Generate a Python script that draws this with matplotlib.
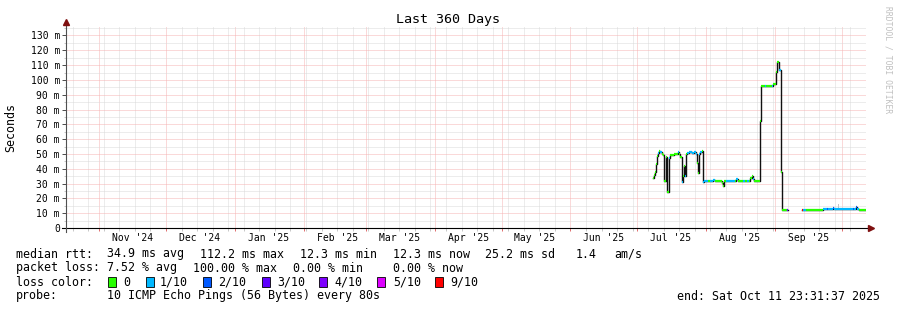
from datetime import datetime, timedelta
import numpy as np
import pandas as pd
import matplotlib
matplotlib.use('Agg')
import matplotlib.pyplot as plt
import matplotlib.dates as mdates
from matplotlib.patches import Rectangle
from matplotlib.ticker import MultipleLocator, FuncFormatter

END = datetime(2025, 10, 11, 23, 31, 37)
START = END - timedelta(days=360)

# median rtt (ms) and loss (pings lost of 10), step values starting at each time
med_t = [
    '2025-07-08 00:00', '2025-07-08 12:00', '2025-07-09 00:00', '2025-07-09 12:00',
    '2025-07-10 00:00', '2025-07-10 12:00', '2025-07-11 00:00', '2025-07-11 12:00',
    '2025-07-12 00:00', '2025-07-12 12:00', '2025-07-13 00:00', '2025-07-13 07:00',
    '2025-07-14 00:00', '2025-07-14 14:00', '2025-07-15 07:00', '2025-07-15 19:00',
    '2025-07-16 12:00', '2025-07-17 12:00', '2025-07-18 12:00', '2025-07-19 05:00',
    '2025-07-19 19:00', '2025-07-20 12:00', '2025-07-21 00:00', '2025-07-21 12:00',
    '2025-07-22 00:00', '2025-07-22 12:00', '2025-07-23 00:00', '2025-07-23 12:00',
    '2025-07-24 12:00', '2025-07-25 12:00', '2025-07-26 12:00', '2025-07-27 12:00',
    '2025-07-28 00:00', '2025-07-28 12:00', '2025-07-29 00:00', '2025-07-29 12:00',
    '2025-07-30 00:00', '2025-07-30 14:00', '2025-07-31 05:00', '2025-08-01 00:00',
    '2025-08-02 00:00', '2025-08-03 00:00', '2025-08-04 00:00', '2025-08-05 00:00',
    '2025-08-06 00:00', '2025-08-07 00:00', '2025-08-08 00:00', '2025-08-08 17:00',
    '2025-08-09 07:00', '2025-08-10 00:00', '2025-08-11 00:00', '2025-08-12 00:00',
    '2025-08-13 00:00', '2025-08-14 00:00', '2025-08-14 10:00', '2025-08-15 12:00',
    '2025-08-16 12:00', '2025-08-17 12:00', '2025-08-18 12:00', '2025-08-19 12:00',
    '2025-08-20 12:00', '2025-08-21 00:00', '2025-08-21 12:00', '2025-08-22 00:00',
    '2025-08-22 12:00', '2025-08-23 12:00', '2025-08-24 12:00', '2025-08-25 07:00',
    '2025-08-25 19:00', '2025-08-26 12:00', '2025-08-27 12:00', '2025-08-28 00:00',
    '2025-08-29 12:00', '2025-08-30 12:00', '2025-08-31 00:00', '2025-09-01 12:00',
    '2025-09-02 02:00', '2025-09-03 00:00', '2025-09-03 14:00', '2025-09-04 01:00',
    '2025-09-06 14:00', '2025-09-07 00:00', '2025-09-13 05:00', '2025-09-13 17:00',
    '2025-09-15 00:00', '2025-09-22 12:00', '2025-09-24 12:00', '2025-09-25 00:00',
    '2025-09-27 00:00', '2025-09-27 12:00', '2025-10-06 00:00', '2025-10-06 12:00',
    '2025-10-07 12:00', '2025-10-08 00:00', '2025-10-08 20:00',
]
med_ms = [
    33.5, 36, 38, 43,
    48.5, 50.5, 52, 51,
    50, 49, 48, 32,
    48, 24, 47, 49,
    49, 50, 50, 51,
    50, 48, 31, 35,
    42, 35, 50, 50.5,
    51, 50.5, 51, 50,
    44, 37, 50, 51,
    52, 31, 31.5, 32,
    31.5, 32, 32.5, 31.5,
    32, 31.5, 30.5, 28.5,
    31.5, 31.5, 31.5, 31.5,
    31.5, 32, 33, 31.5,
    31.5, 31.5, 31.5, 31.5,
    31.5, 34, 35, 33,
    31.5, 31.5, 31.5, 72,
    96, 96, 96, 96,
    96, 96, 97, 105.5,
    112, 106.5, 38, 12.3,
    12.3, np.nan, 12.3, 12.3,
    12.4, 12.5, 13, 12.5,
    13.3, 12.5, 13, 12.5,
    14.3, 12.6, 12.3,
]
med_loss = [
    0, 0, 0, 0,
    0, 1, 0, 1,
    0, 0, 0, 0,
    0, 0, 1, 0,
    0, 0, 0, 1,
    0, 0, 1, 0,
    0, 1, 0, 1,
    1, 1, 1, 1,
    0, 0, 1, 1,
    0, 1, 1, 1,
    0, 1, 1, 0,
    0, 0, 0, 0,
    0, 1, 1, 1,
    1, 0, 1, 0,
    0, 1, 0, 1,
    0, 0, 0, 1,
    0, 0, 0, 0,
    0, 0, 1, 0,
    0, 1, 0, 0,
    0, 1, 0, 0,
    3, 0, 9, 1,
    0, 1, 2, 1,
    2, 1, 2, 1,
    2, 1, 0,
]

# smoke (spread of the individual pings) where it is visible
smoke_t = ['2025-07-10 12:00', '2025-07-11 12:00', '2025-07-19 00:00', '2025-07-19 12:00',
           '2025-07-29 12:00', '2025-07-30 12:00', '2025-08-21 00:00', '2025-08-22 00:00',
           '2025-09-22 12:00', '2025-09-29 12:00', '2025-09-30 00:00', '2025-10-08 00:00']
smoke_lo = [50, np.nan, 49, np.nan, 50, np.nan, 32, np.nan, 12.3, 12.3, 12.3, np.nan]
smoke_hi = [53.5, np.nan, 53, np.nan, 54, np.nan, 37.5, np.nan, 13.4, 16.5, 13.4, np.nan]

loss_levels = [0, 1, 2, 3, 4, 5, 9]
loss_labels = ['0', '1/10', '2/10', '3/10', '4/10', '5/10', '9/10']
loss_colors = ['#26ff00', '#00b8ff', '#0059ff', '#5e00ff', '#7e00ff', '#dd00ff', '#ff0000']
month_labels = ["Nov '24", "Dec '24", "Jan '25", "Feb '25", "Mar '25", "Apr '25",
                "May '25", "Jun '25", "Jul '25", "Aug '25", "Sep '25"]
month_starts = pd.date_range('2024-11-01', '2025-09-01', freq='MS')

W, H = 897, 310
MONO = 'DejaVu Sans Mono'
plt.rcParams['font.family'] = MONO

fig = plt.figure(figsize=(W / 100, H / 100), dpi=100)
ax = fig.add_axes([66 / W, 1 - 228 / H, 800 / W, 202 / H])

t = pd.to_datetime(med_t)
t_end = list(t[1:]) + [END]
ms = np.array(med_ms, dtype=float)

# smoke
st = pd.to_datetime(smoke_t)
ax.fill_between(st, smoke_lo, smoke_hi, step='post', color='#c4c4c4', lw=0, zorder=2)

# black median step line, loss coloured segments on top
ax.plot(list(t) + [END], list(ms) + [ms[-1]], drawstyle='steps-post',
        color='#111111', lw=1.0, zorder=3)
cmap = dict(zip(loss_levels, loss_colors))
for a, b, v, l in zip(t, t_end, ms, med_loss):
    if np.isnan(v):
        continue
    ax.hlines(v, a, b, color=cmap[l], lw=1.6, zorder=4)

ax.set_xlim(START, END)
ax.set_ylim(0, 136.4)

ax.xaxis.set_major_locator(mdates.MonthLocator())
ax.xaxis.set_minor_locator(mdates.WeekdayLocator(byweekday=mdates.SU))
ax.xaxis.set_major_formatter(FuncFormatter(lambda v, p: ''))
ax.yaxis.set_major_locator(MultipleLocator(10))
ax.yaxis.set_minor_locator(MultipleLocator(5))
ax.yaxis.set_major_formatter(FuncFormatter(lambda v, p: '0' if v == 0 else f'{v:.0f} m'))

dots = (0, (1, 1))
ax.grid(which='major', color='#f6b4b4', ls=dots, lw=0.72, zorder=1)
ax.grid(which='minor', color='#dadada', ls=dots, lw=0.72, zorder=0)
ax.tick_params(axis='x', which='major', color='#e07070', length=1.8, width=0.72, direction='out')
ax.tick_params(axis='x', which='minor', color='#c8c8c8', length=1.8, width=0.72, direction='out')
ax.tick_params(axis='y', which='major', color='#505050', length=2.9, width=0.72,
               direction='out', pad=1.5, labelsize=7)
ax.tick_params(axis='y', which='minor', color='#c8c8c8', length=1.5, width=0.72, direction='out')
for s in ax.spines.values():
    s.set_visible(False)

for m, lab in zip(month_starts, month_labels):
    ax.text(m + pd.Timedelta(days=15), -0.05, lab, transform=ax.get_xaxis_transform(),
            ha='center', va='center', fontsize=7)

# axes with arrows
ax.plot([-4 / 800, 1 + 3 / 800], [0, 0], transform=ax.transAxes, color='black',
        lw=0.8, clip_on=False, zorder=5)
ax.plot([1 + 5 / 800], [0], transform=ax.transAxes, marker='>', ms=4, color='#7f1010',
        clip_on=False, zorder=5)
ax.plot([0, 0], [-4 / 202, 1 + 1 / 202], transform=ax.transAxes, color='#505050',
        lw=0.8, clip_on=False, zorder=5)
ax.plot([0], [1 + 4 / 202], transform=ax.transAxes, marker='^', ms=4, color='#7f1010',
        clip_on=False, zorder=5)


def px(x, y):
    return x / W, 1 - y / H


fig.text(*px(448, 19), 'Last 360 Days', ha='center', va='center', fontsize=9.6)
fig.text(*px(11, 127), 'Seconds', rotation=90, ha='center', va='center', fontsize=8.4)
fig.text(*px(888, 60), 'RRDTOOL / TOBI OETIKER', rotation=270, ha='center', va='center',
         fontsize=5.8, color='#c0c0c0')

LS = 8.4
rows = [
    (254, [(16, 'median rtt:'), (107, '34.9 ms avg'), (200, '112.2 ms max'),
           (300, '12.3 ms min'), (393, '12.3 ms now'), (485, '25.2 ms sd'),
           (576, '1.4'), (614, 'am/s')]),
    (268, [(16, 'packet loss:'), (107, '7.52 % avg'), (193, '100.00 % max'),
           (293, '0.00 % min'), (393, '0.00 % now')]),
    (296, [(16, 'probe:'), (107, '10 ICMP Echo Pings (56 Bytes) every 80s')]),
]
for y, items in rows:
    for x, s in items:
        fig.text(*px(x, y), s, ha='left', va='center', fontsize=LS)
fig.text(*px(880, 296), 'end: Sat Oct 11 23:31:37 2025', ha='right', va='center', fontsize=LS)

fig.text(*px(16, 282), 'loss color:', ha='left', va='center', fontsize=LS)
box_x = [108, 146, 203, 262, 319, 377, 435]
text_x = [123, 160, 218, 277, 334, 393, 450]
for bx, tx, c, lab in zip(box_x, text_x, loss_colors, loss_labels):
    fig.patches.append(Rectangle(px(bx, 287), 8 / W, 10 / H, transform=fig.transFigure,
                                 facecolor=c, edgecolor='black', lw=0.6))
    fig.text(*px(tx, 282), lab, ha='left', va='center', fontsize=LS)

fig.savefig('out.png', dpi=100, facecolor='white')
